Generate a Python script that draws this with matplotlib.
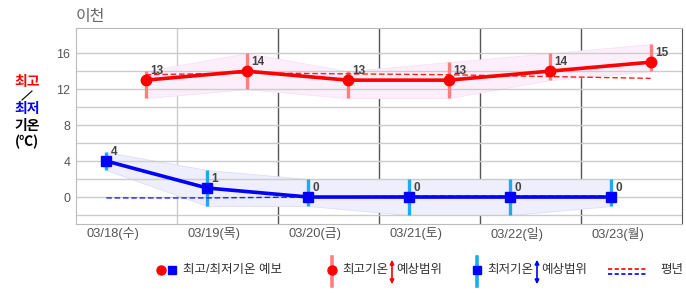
import numpy as np
import matplotlib.pyplot as plt
from matplotlib.lines import Line2D
from matplotlib.patches import FancyArrowPatch

plt.rcParams['font.family'] = ['Liberation Sans', 'Noto Sans CJK KR', 'DejaVu Sans']

days = ['03/18(수)', '03/19(목)', '03/20(금)', '03/21(토)', '03/22(일)', '03/23(월)']
high = [13, 14, 13, 13, 14, 15]
low = [4, 1, 0, 0, 0, 0]
high_min = [11, 12, 11, 11, 13, 14]
high_max = [14, 16, 14, 15, 16, 17]
low_min = [3, -1, -1, -2, -2, -1]
low_max = [5, 3, 2, 2, 2, 2]
high_normal = [13.6, 13.8, 13.7, 13.6, 13.4, 13.2]
low_normal = [-0.1, -0.1, 0.0, 0.1, 0.1, 0.1]

W, H = 686, 295
fig = plt.figure(figsize=(W / 100, H / 100), dpi=100)
ax = fig.add_axes([76 / W, 1 - 224 / H, 606 / W, 196 / H])


def px(x, y):
    # pixel position -> figure fraction
    return x / W, 1 - y / H


x = np.arange(len(days))
x_low = x + 0.30
x_high = x + 0.69

# bands
ax.fill_between(x_high, high_min, high_max, color='#fdeefb', edgecolor='#f9e0f6', lw=0.6, zorder=1)
ax.fill_between(x_low, low_min, low_max, color='#eeeefc', edgecolor='#dedef6', lw=0.6, zorder=1)

# range bars
ax.vlines(x_high, high_min, high_max, color='#ff7f7f', lw=2.4, zorder=3)
ax.vlines(x_low, low_min, low_max, color='#1eaaf1', lw=2.4, zorder=3)

# normals
ax.plot(x_high, high_normal, color='#ff2020', lw=1, ls=(0, (4, 2)), zorder=4)
ax.plot(x_low, low_normal, color='#2020ff', lw=1, ls=(0, (4, 2)), zorder=4)

# forecast
ax.plot(x_high, high, color='#ff0000', lw=2.6, marker='o', ms=7.5, zorder=5)
ax.plot(x_low, low, color='#0000ff', lw=2.6, marker='s', ms=7.5, zorder=5)

for xi, v in zip(x_high, high):
    ax.annotate(str(v), (xi, v), xytext=(3, 6.5), textcoords='offset points',
                ha='left', va='center', fontsize=8.5, fontweight='bold', color='#444444', zorder=6)
for xi, v in zip(x_low, low):
    ax.annotate(str(v), (xi, v), xytext=(3, 6.5), textcoords='offset points',
                ha='left', va='center', fontsize=8.5, fontweight='bold', color='#444444', zorder=6)

ax.set_xlim(0, 6)
ax.set_ylim(-3, 18.8)
ax.set_yticks([0, 4, 8, 12, 16])
ax.set_yticks(np.arange(-2, 17, 2), minor=True)
ax.grid(axis='y', which='both', color='#cccccc', lw=1, zorder=0)
ax.set_xticks(x + 0.37)
ax.set_xticklabels(days)
ax.tick_params(axis='both', which='both', length=0, colors='#555555', labelsize=9)
ax.tick_params(axis='x', pad=2, labelsize=9.3)
ax.tick_params(axis='y', pad=4)

ax.axvline(1, color='#cccccc', lw=1, zorder=0)
for d in range(2, 6):
    ax.axvline(d, color='#555555', lw=1, zorder=0)
for s in ['left', 'top', 'bottom']:
    ax.spines[s].set_color('#bbbbbb')
ax.spines['right'].set_color('#555555')

fig.text(*px(76, 16), '이천', fontsize=11.5, color='#666666', va='center', ha='left')

# left label
for txt, yy, c in [('최고', 82, '#ff0000'), ('최저', 109, '#0000ff'),
                   ('기온', 126, '#000000'), ('(℃)', 142, '#000000')]:
    fig.text(*px(27, yy), txt, fontsize=10, fontweight='bold', color=c, ha='center', va='center',
             family=['Noto Sans CJK KR', 'DejaVu Sans'])
fig.add_artist(Line2D(*zip(px(22, 100), px(32, 91)), transform=fig.transFigure, color='#000000', lw=0.8))

# legend
ly = 270
fs = 9
fig.add_artist(Line2D(*zip(px(161, ly)), transform=fig.transFigure, marker='o', ms=6.5, color='#ff0000', lw=0))
fig.add_artist(Line2D(*zip(px(172, ly)), transform=fig.transFigure, marker='s', ms=6, color='#0000ff', lw=0))
fig.text(*px(183, ly), '최고/최저기온 예보', fontsize=fs, color='#333333', va='center')

fig.add_artist(Line2D(*zip(px(332, 257), px(332, 286)), transform=fig.transFigure, color='#ff7f7f', lw=2.6))
fig.add_artist(Line2D(*zip(px(332, ly)), transform=fig.transFigure, marker='o', ms=6.5, color='#ff0000', lw=0))
fig.text(*px(342, ly), '최고기온', fontsize=fs, color='#333333', va='center')
fig.add_artist(FancyArrowPatch(px(392, 257), px(392, 287), transform=fig.transFigure,
                               arrowstyle='<|-|>', mutation_scale=6, color='#ff0000', lw=1.2))
fig.text(*px(396, ly), '예상범위', fontsize=fs, color='#333333', va='center')

fig.add_artist(Line2D(*zip(px(477, 257), px(477, 286)), transform=fig.transFigure, color='#1eaaf1', lw=2.6))
fig.add_artist(Line2D(*zip(px(477, ly)), transform=fig.transFigure, marker='s', ms=6, color='#0000ff', lw=0))
fig.text(*px(487, ly), '최저기온', fontsize=fs, color='#333333', va='center')
fig.add_artist(FancyArrowPatch(px(537, 257), px(537, 287), transform=fig.transFigure,
                               arrowstyle='<|-|>', mutation_scale=6, color='#0000ff', lw=1.2))
fig.text(*px(541, ly), '예상범위', fontsize=fs, color='#333333', va='center')

fig.add_artist(Line2D(*zip(px(608, 269), px(647, 269)), transform=fig.transFigure, color='#ff0000', lw=1.2, ls=(0, (2.5, 1.5))))
fig.add_artist(Line2D(*zip(px(608, 274), px(647, 274)), transform=fig.transFigure, color='#0000ff', lw=1.2, ls=(0, (2.5, 1.5))))
fig.text(*px(660, ly), '평년', fontsize=fs, color='#333333', va='center')

fig.savefig('out.png', dpi=100)
